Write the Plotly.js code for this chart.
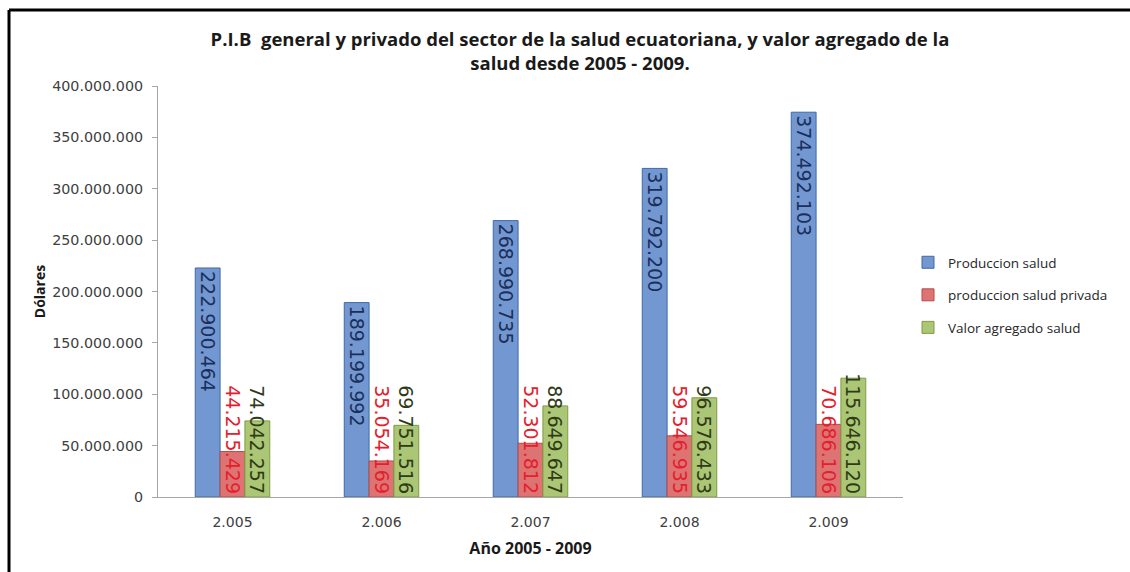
<!DOCTYPE html>
<html>
<head>
<meta charset="utf-8">
<script src="https://cdn.plot.ly/plotly-3.0.1.min.js"></script>
<style>html,body{margin:0;padding:0;background:#fff;overflow:hidden;}#chart{width:1130px;height:572px;}</style>
</head>
<body>
<div id="chart"></div>
<script>
const years = [2005, 2006, 2007, 2008, 2009];
const yearLabels = ['2.005', '2.006', '2.007', '2.008', '2.009'];
const produccionSalud = [222900464, 189199992, 268990735, 319792200, 374492103];
const produccionPrivada = [44215429, 35054169, 52301812, 59546935, 70686106];
const valorAgregado = [74042257, 69751516, 88649647, 96576433, 115646120];
const seriesNames = ['Produccion salud', 'produccion salud privada', 'Valor agregado salud'];

const W = 1130, H = 572;
const L = 158, R = 903, T = 86, B = 497;
const px = v => (v - L) / (R - L);
const py = v => (B - v) / (B - T);
const labelFont = 'DejaVu Sans, sans-serif';

function barTrace(name, y, fill, edge, txtColor, anchor) {
  return {
    type: 'bar', name: name, legendgroup: name, x: years, y: y,
    marker: {color: fill, line: {color: edge, width: 1}},
    texttemplate: '%{y:,}', textposition: 'inside', textangle: 90,
    insidetextanchor: anchor, constraintext: 'none',
    insidetextfont: {family: labelFont, size: 19, color: txtColor},
    cliponaxis: false, hoverinfo: 'name+y'
  };
}

const data = [
  barTrace(seriesNames[0], produccionSalud, '#7397d0', '#3f6aa6', '#1b2f5c', 'end'),
  barTrace(seriesNames[1], produccionPrivada, '#dd7473', '#b84a48', '#e4202c', 'start'),
  barTrace(seriesNames[2], valorAgregado, '#abc674', '#7f9c43', '#2f3b17', 'start')
];

const layout = {
  width: W, height: H,
  margin: {l: L, r: W - R, t: T, b: H - B, pad: 0, autoexpand: false},
  paper_bgcolor: '#ffffff', plot_bgcolor: '#ffffff',
  separators: ',.',
  barmode: 'group', bargap: 0.5, bargroupgap: 0,
  showlegend: true,
  font: {family: labelFont, color: '#404040', size: 14},
  title: {
    text: '<b>P.I.B  general y privado del sector de la salud ecuatoriana, y valor agregado de la<br>salud desde 2005 - 2009.</b>',
    font: {family: 'Open Sans, sans-serif', size: 18.5, color: '#1a1a1a'},
    x: 580 / W, xanchor: 'center', xref: 'container',
    y: 1 - 46 / H, yanchor: 'middle', yref: 'container'
  },
  xaxis: {
    tickmode: 'array', tickvals: years, ticktext: yearLabels,
    range: [2004.5, 2009.5],
    showline: true, linecolor: '#a6a6a6', linewidth: 1,
    ticks: '', showgrid: false, zeroline: false, ticklabelstandoff: 12,
    tickfont: {family: labelFont, size: 14, color: '#404040'},
    title: {text: '<b>Año 2005 - 2009</b>', font: {family: 'Open Sans, sans-serif', size: 16, color: '#1a1a1a'}, standoff: 14}
  },
  yaxis: {
    range: [0, 400000000], tickmode: 'linear', tick0: 0, dtick: 50000000,
    tickformat: ',', showline: true, linecolor: '#a6a6a6', linewidth: 1,
    ticks: 'outside', ticklen: 5, tickcolor: '#a6a6a6',
    showgrid: false, zeroline: false, ticklabelstandoff: 6,
    tickfont: {family: labelFont, size: 14.3, color: '#404040'},
    title: {text: '<b>Dólares</b>', font: {family: 'Open Sans, sans-serif', size: 14, color: '#1a1a1a'}, standoff: 3}
  },
  legend: {
    xref: 'container', yref: 'container',
    x: 908 / W, y: 1 - 247 / H, xanchor: 'left', yanchor: 'top',
    font: {family: 'Open Sans, sans-serif', size: 13.5, color: '#262626'},
    tracegroupgap: 12, itemwidth: 30, bgcolor: 'rgba(0,0,0,0)'
  },
  shapes: [
    {type: 'line', xref: 'paper', yref: 'paper', x0: px(9), x1: px(1130), y0: py(10), y1: py(10), line: {color: '#000', width: 3}},
    {type: 'line', xref: 'paper', yref: 'paper', x0: px(9), x1: px(9), y0: py(10), y1: py(572), line: {color: '#000', width: 3}}
  ]
};

Plotly.newPlot('chart', data, layout, {displayModeBar: false, staticPlot: true});
</script>
</body>
</html>
